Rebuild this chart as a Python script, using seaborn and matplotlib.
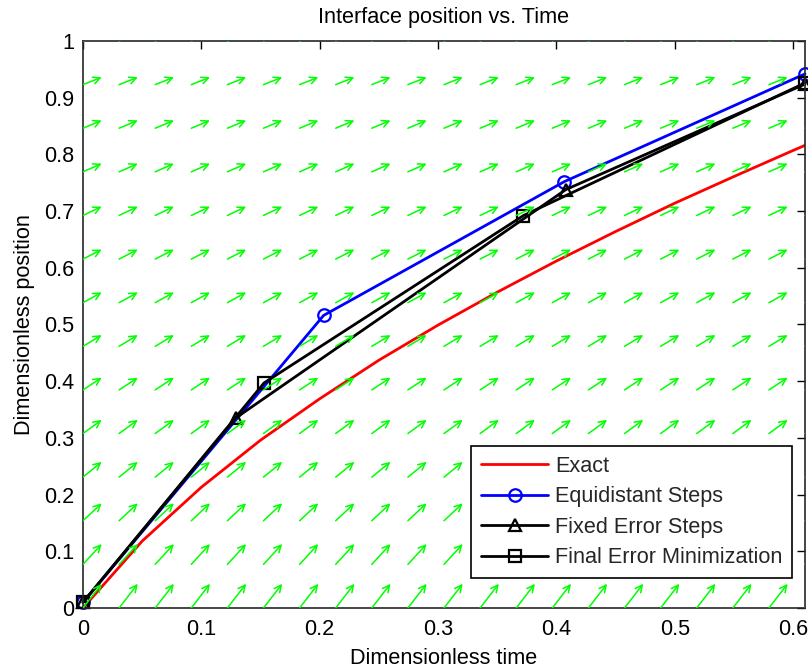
import numpy as np
import pandas as pd
import matplotlib
matplotlib.use("Agg")
import matplotlib.pyplot as plt
from matplotlib.patches import FancyArrowPatch
import seaborn as sns

# ---- data ----
t_exact = [0.0, 0.05, 0.10, 0.15, 0.20, 0.25, 0.30, 0.35, 0.40, 0.45, 0.50, 0.55, 0.60, 0.61]
s_exact = [0.0, 0.118, 0.213, 0.296, 0.369, 0.437, 0.499, 0.557, 0.612, 0.664, 0.714, 0.761, 0.807, 0.816]

t_equi = [0.0, 0.2033, 0.4067, 0.61]
s_equi = [0.01, 0.516, 0.752, 0.942]

t_fixed = [0.0, 0.129, 0.408, 0.61]
s_fixed = [0.01, 0.335, 0.738, 0.924]

t_final = [0.0, 0.153, 0.372, 0.61]
s_final = [0.01, 0.397, 0.692, 0.926]

# direction field: slope ds/dt of the arrows in each row (rows at s = k/13)
field_rows = [0.0, 1/13, 2/13, 3/13, 4/13, 5/13, 6/13, 7/13, 8/13, 9/13, 10/13, 11/13, 12/13, 1.0]
field_slopes = [2.7, 2.27, 1.95, 1.70, 1.52, 1.37, 1.25, 1.15, 1.06, 0.99, 0.92, 0.87, 0.82, 0.78]
n_field_cols = 21

x_ticks = [0, 0.1, 0.2, 0.3, 0.4, 0.5, 0.6]
x_ticklabels = ["0", "0.1", "0.2", "0.3", "0.4", "0.5", "0.6"]
y_ticks = [0, 0.1, 0.2, 0.3, 0.4, 0.5, 0.6, 0.7, 0.8, 0.9, 1.0]
y_ticklabels = ["0", "0.1", "0.2", "0.3", "0.4", "0.5", "0.6", "0.7", "0.8", "0.9", "1"]

labels = ["Exact", "Equidistant Steps", "Fixed Error Steps", "Final Error Minimization"]
title = "Interface position vs. Time"
xlabel = "Dimensionless time"
ylabel = "Dimensionless position"

# ---- style ----
sns.set_theme(style="white")
plt.rcParams["font.family"] = ["Liberation Sans", "DejaVu Sans"]
FS = 15.6

fig = plt.figure(figsize=(8.08, 6.71), dpi=100)
ax = fig.add_axes([0.1027, 0.0939, 0.8936, 0.845])

XMAX = 0.61
ax.set_xlim(0, XMAX)
ax.set_ylim(0, 1)

# direction field (green arrows)
cols = np.linspace(0, XMAX, n_field_cols)
arrow_dx = 0.0158
for s0, slope in zip(field_rows, field_slopes):
    for t0 in cols:
        arr = FancyArrowPatch((t0, s0), (t0 + arrow_dx, s0 + arrow_dx * slope),
                              arrowstyle="->,head_length=0.5,head_width=0.25",
                              mutation_scale=10, color="#00ff00", lw=1.1,
                              shrinkA=0, shrinkB=0, zorder=3)
        ax.add_patch(arr)

lw = 2.0
df_ex = pd.DataFrame({"t": t_exact, "s": s_exact})
sns.lineplot(data=df_ex, x="t", y="s", ax=ax, sort=False, color="red", lw=lw,
             label=labels[0], zorder=2)

common = dict(markersize=9, markerfacecolor="none", markeredgewidth=1.6, lw=lw,
              clip_on=False, zorder=2)
df_eq = pd.DataFrame({"t": t_equi, "s": s_equi})
sns.lineplot(data=df_eq, x="t", y="s", ax=ax, sort=False, color="blue", marker="o",
             markeredgecolor="blue", label=labels[1], **common)
df_fx = pd.DataFrame({"t": t_fixed, "s": s_fixed})
sns.lineplot(data=df_fx, x="t", y="s", ax=ax, sort=False, color="black", marker="^",
             markeredgecolor="black", label=labels[2], **common)
df_fn = pd.DataFrame({"t": t_final, "s": s_final})
sns.lineplot(data=df_fn, x="t", y="s", ax=ax, sort=False, color="black", marker="s",
             markeredgecolor="black", label=labels[3], **common)

ax.set_xticks(x_ticks)
ax.set_xticklabels(x_ticklabels)
ax.set_yticks(y_ticks)
ax.set_yticklabels(y_ticklabels)
ax.tick_params(axis="both", direction="in", top=True, right=True, length=6,
               width=1, color="black", labelsize=FS, labelcolor="black")
ax.tick_params(axis="x", pad=8)
ax.tick_params(axis="y", pad=6)
for sp in ax.spines.values():
    sp.set_color("#262626")
    sp.set_linewidth(1.2)
    sp.set_visible(True)

ax.set_title(title, fontsize=FS, color="black", pad=13)
ax.set_xlabel(xlabel, fontsize=FS, color="black", labelpad=6)
ax.set_ylabel(ylabel, fontsize=FS, color="black", labelpad=7)

handles, labs = ax.get_legend_handles_labels()
leg = ax.legend(handles, labs, loc="lower right", bbox_to_anchor=(0.982, 0.053),
                fontsize=FS, frameon=True, fancybox=False, framealpha=1,
                edgecolor="black", handlelength=3.1, handletextpad=0.3,
                labelspacing=0.44, borderpad=0.45, borderaxespad=0)
leg.get_frame().set_linewidth(1.2)
leg.set_zorder(5)

fig.savefig("out.png", dpi=100)
